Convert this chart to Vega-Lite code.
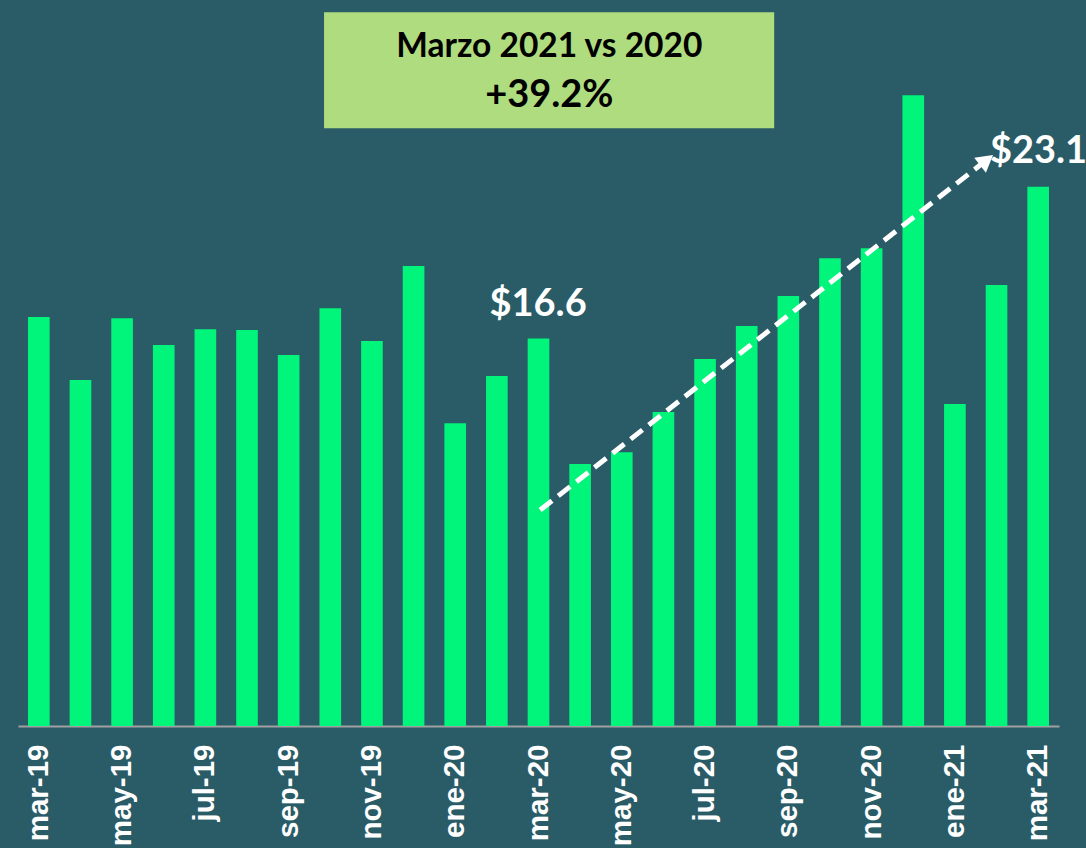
{
  "$schema": "https://vega.github.io/schema/vega-lite/v6.json",
  "autosize": {"type": "none"},
  "width": 1041,
  "height": 726,
  "padding": {"left": 18, "top": 0, "right": 27, "bottom": 122},
  "background": "#2A5C68",
  "config": {"view": {"stroke": null}},
  "layer": [
    {
      "data": {
        "values": [
          {"mes": "mar-19", "valor": 17.52},
          {"mes": "abr-19", "valor": 14.82},
          {"mes": "may-19", "valor": 17.47},
          {"mes": "jun-19", "valor": 16.32},
          {"mes": "jul-19", "valor": 17.0},
          {"mes": "ago-19", "valor": 16.96},
          {"mes": "sep-19", "valor": 15.89},
          {"mes": "oct-19", "valor": 17.9},
          {"mes": "nov-19", "valor": 16.49},
          {"mes": "dic-19", "valor": 19.7},
          {"mes": "ene-20", "valor": 12.97},
          {"mes": "feb-20", "valor": 14.99},
          {"mes": "mar-20", "valor": 16.6},
          {"mes": "abr-20", "valor": 11.22},
          {"mes": "may-20", "valor": 11.73},
          {"mes": "jun-20", "valor": 13.45},
          {"mes": "jul-20", "valor": 15.72},
          {"mes": "ago-20", "valor": 17.13},
          {"mes": "sep-20", "valor": 18.42},
          {"mes": "oct-20", "valor": 20.04},
          {"mes": "nov-20", "valor": 20.47},
          {"mes": "dic-20", "valor": 27.02},
          {"mes": "ene-21", "valor": 13.79},
          {"mes": "feb-21", "valor": 18.89},
          {"mes": "mar-21", "valor": 23.1}
        ]
      },
      "mark": {"type": "bar", "color": "#00F57A"},
      "encoding": {
        "x": {
          "field": "mes",
          "type": "ordinal",
          "sort": null,
          "scale": {"paddingInner": 0.48, "paddingOuter": 0.24},
          "axis": {
            "title": null,
            "values": ["mar-19", "may-19", "jul-19", "sep-19", "nov-19", "ene-20", "mar-20", "may-20", "jul-20", "sep-20", "nov-20", "ene-21", "mar-21"],
            "ticks": false,
            "domainColor": "#A0A0A0",
            "domainWidth": 2,
            "labelAngle": 270,
            "labelAlign": "right",
            "labelBaseline": "middle",
            "labelPadding": 18,
            "labelFont": "Liberation Sans",
            "labelFontWeight": "bold",
            "labelFontSize": 29.5,
            "labelColor": "#FFFFFF"
          }
        },
        "y": {
          "field": "valor",
          "type": "quantitative",
          "scale": {"domain": [0, 31.1], "nice": false, "zero": true},
          "axis": null
        }
      }
    },
    {
      "data": {
        "values": [
          {"x1": 7.35, "x2": 18.16, "y1": 25.61, "y2": 30.58}
        ]
      },
      "mark": {"type": "rect", "color": "#AFDC7E"},
      "encoding": {
        "x": {"field": "x1", "type": "quantitative", "scale": {"domain": [0, 25], "nice": false, "zero": false}, "axis": null},
        "x2": {"field": "x2"},
        "y": {"field": "y1", "type": "quantitative", "scale": {"domain": [0, 31.1], "nice": false}, "axis": null},
        "y2": {"field": "y2"}
      }
    },
    {
      "data": {
        "values": [
          {"x": 12.76, "y": 28.65, "t": "Marzo 2021 vs 2020", "s": 33.5, "c": "#000000"},
          {"x": 12.76, "y": 26.51, "t": "+39.2%", "s": 38, "c": "#000000"},
          {"x": 12.49, "y": 17.56, "t": "$16.6", "s": 38, "c": "#FFFFFF"}
        ]
      },
      "mark": {"type": "text", "font": "Lato", "fontWeight": "bold", "baseline": "alphabetic", "align": "center"},
      "encoding": {
        "x": {"field": "x", "type": "quantitative", "scale": {"domain": [0, 25], "nice": false, "zero": false}, "axis": null},
        "y": {"field": "y", "type": "quantitative", "scale": {"domain": [0, 31.1], "nice": false}, "axis": null},
        "text": {"field": "t"},
        "size": {"field": "s", "type": "quantitative", "scale": null, "legend": null},
        "color": {"field": "c", "type": "nominal", "scale": null, "legend": null}
      }
    },
    {
      "data": {
        "values": [
          {"x": 23.34, "y": 24.11, "t": "$23.1"}
        ]
      },
      "mark": {"type": "text", "font": "Lato", "fontWeight": "bold", "baseline": "alphabetic", "align": "left", "fontSize": 38, "color": "#FFFFFF"},
      "encoding": {
        "x": {"field": "x", "type": "quantitative", "scale": {"domain": [0, 25], "nice": false, "zero": false}, "axis": null},
        "y": {"field": "y", "type": "quantitative", "scale": {"domain": [0, 31.1], "nice": false}, "axis": null},
        "text": {"field": "t"}
      }
    },
    {
      "data": {
        "values": [
          {"x": 12.54, "y": 9.25},
          {"x": 23.2, "y": 24.16}
        ]
      },
      "mark": {"type": "line", "color": "#FFFFFF", "strokeWidth": 5, "strokeDash": [15, 8]},
      "encoding": {
        "x": {"field": "x", "type": "quantitative", "scale": {"domain": [0, 25], "nice": false, "zero": false}, "axis": null},
        "y": {"field": "y", "type": "quantitative", "scale": {"domain": [0, 31.1], "nice": false}, "axis": null}
      }
    },
    {
      "data": {
        "values": [
          {"x": 23.26, "y": 24.24}
        ]
      },
      "mark": {"type": "point", "shape": "triangle-right", "filled": true, "color": "#FFFFFF", "size": 360, "angle": -38, "opacity": 1},
      "encoding": {
        "x": {"field": "x", "type": "quantitative", "scale": {"domain": [0, 25], "nice": false, "zero": false}, "axis": null},
        "y": {"field": "y", "type": "quantitative", "scale": {"domain": [0, 31.1], "nice": false}, "axis": null}
      }
    }
  ],
  "resolve": {"scale": {"x": "independent"}}
}
